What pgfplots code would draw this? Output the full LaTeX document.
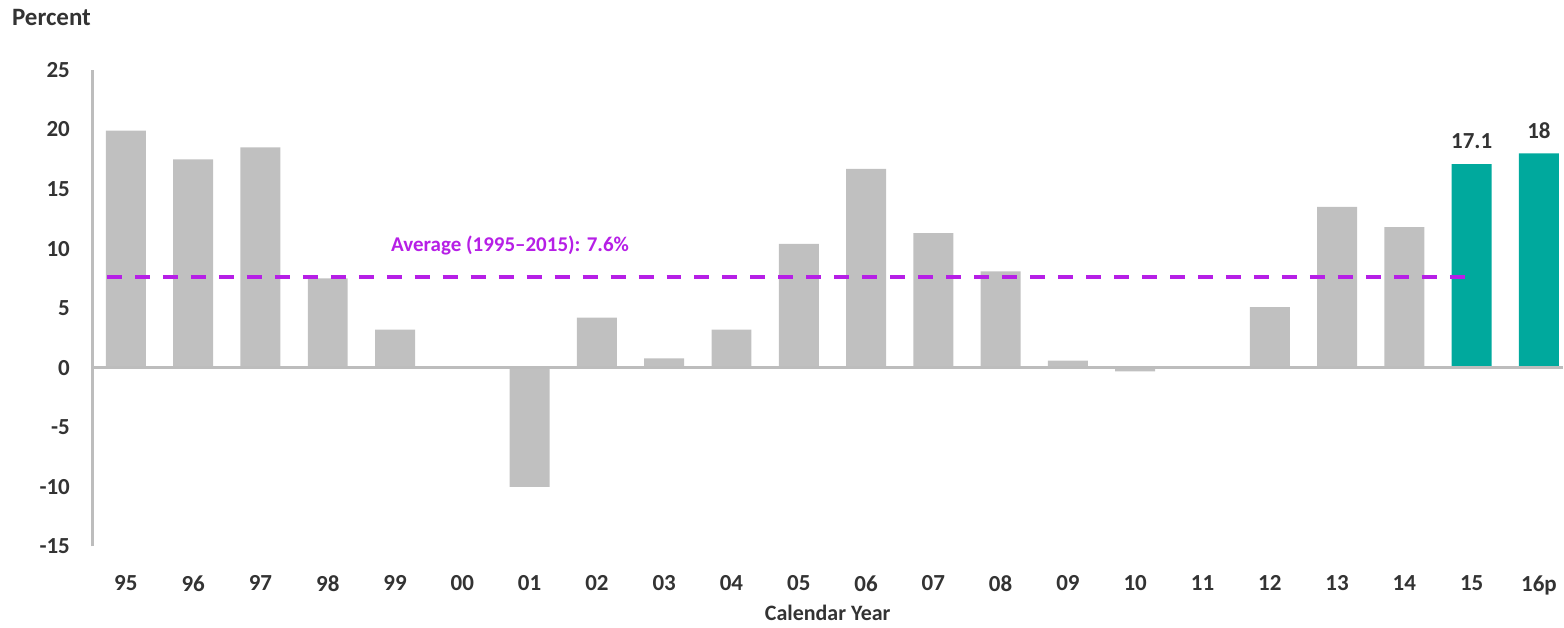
\documentclass[border=0pt]{standalone}
\usepackage{fontspec}
\setmainfont{Carlito}
\usepackage{pgfplots}
\pgfplotsset{compat=1.18}
\usepackage{pgfplotstable}

\definecolor{bargray}{HTML}{C0C0C0}
\definecolor{teal2}{HTML}{00A99D}
\definecolor{avgpurple}{HTML}{B61FE6}
\definecolor{txt}{HTML}{333333}
\definecolor{axgray}{HTML}{BDBDBD}

% x = position, y = percent
\pgfplotstableread{
x y
0 19.9
1 17.5
2 18.5
3 7.5
4 3.2
5 0
6 -10
7 4.2
8 0.8
9 3.2
10 10.4
11 16.7
12 11.3
13 8.1
14 0.6
15 -0.3
16 0
17 5.1
18 13.5
19 11.8
}\histdata

\pgfplotstableread{
x y
20 17.1
21 18
}\projdata

\begin{document}
\begin{tikzpicture}[font=\bfseries]
\begin{axis}[
    at={(0,0)}, anchor=south west,
    scale only axis,
    width=735.5pt, height=238.5pt,
    xmin=-0.49, xmax=21.35,
    ymin=-15, ymax=25,
    ytick={-15,-10,...,25},
    xtick={0,...,21},
    xticklabels={95,96,97,98,99,00,01,02,03,04,05,06,07,08,09,10,11,12,13,14,15,16p},
    axis x line=bottom, axis y line=left,
    x axis line style={draw=none},
    y axis line style={axgray, line width=1.5pt, -},
    major tick length=0pt,
    xticklabel style={font=\fontsize{11.5}{13}\selectfont\bfseries, text=txt, yshift=-11pt},
    yticklabel style={font=\fontsize{11.5}{13}\selectfont\bfseries, text=txt, xshift=-8pt},
    /pgf/number format/assume math mode=true,
    xlabel={Calendar Year},
    xlabel style={font=\fontsize{11}{13}\selectfont\bfseries, text=txt, yshift=1.5pt},
    clip=false,
]
    \addplot[ybar, bar width=20pt, fill=bargray, draw=none] table[x=x, y=y] {\histdata};
    \addplot[ybar, bar width=20pt, fill=teal2, draw=none,
        nodes near coords, every node near coord/.append style={font=\fontsize{11.5}{13}\selectfont\bfseries, text=txt, yshift=4pt}]
        table[x=x, y=y] {\projdata};
    % zero line
    \addplot[axgray, line width=1.5pt, mark=none] coordinates {(-0.49,0) (21.35,0)};
    % average line
    \addplot[avgpurple, line width=2pt, dash pattern=on 7.5pt off 6.5pt, mark=none]
        coordinates {(-0.28,7.6) (19.9,7.6)};
    \node[text=avgpurple, font=\fontsize{10.5}{12}\selectfont\bfseries] at (axis cs:5.71,10.3) {Average (1995--2015): 7.6\%};
\end{axis}
\node[anchor=west, text=txt, font=\fontsize{12.5}{14}\selectfont\bfseries] at (-44pt,264.5pt) {Percent};
\path[use as bounding box] (-46.5pt,-40pt) rectangle (735.5pt,273.5pt);
\end{tikzpicture}
\end{document}
